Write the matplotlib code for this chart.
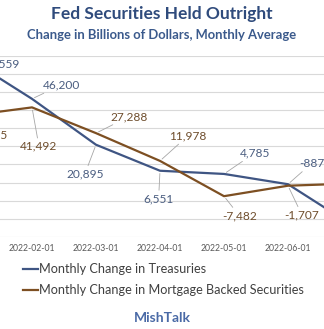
import matplotlib.pyplot as plt

plt.rcParams['font.family'] = ['Lato', 'DejaVu Sans']

# monthly change, billions of dollars (Jan and Jul fall outside the crop)
months = ['2022-01-01', '2022-02-01', '2022-03-01', '2022-04-01',
          '2022-05-01', '2022-06-01', '2022-07-01']
treasuries = [68559, 46200, 20895, 6551, 4785, -887, -23400]
mbs = [36855, 41492, 27288, 11978, -7482, -1707, -500]

# label offsets in points (dx, dy) from each point
treas_off = [(24, -4), (21, 10), (-8, -21), (-1, -20), (22, 15), (17, 15), (0, 0)]
mbs_off = [(15, -14), (5, -28), (24, 12), (20, 18), (11, -14), (10, -21), (0, 0)]

blue = '#3f5583'
brown = '#7d4f22'
blue_txt = '#4a5d80'
brown_txt = '#6e4d2c'

fig = plt.figure(figsize=(3.24, 3.29), dpi=100)
ax = fig.add_axes([0, 0.2796, 1, 0.5511])

x = list(range(len(months)))
ax.plot(x, treasuries, color=blue, lw=1.6, zorder=3)
ax.plot(x, mbs, color=brown, lw=1.6, zorder=3)

ax.set_xticks(x)
ax.set_xticklabels(months, fontsize=6.2, color='#595959')
ax.tick_params(axis='x', length=0, pad=5)

ax.set_yticks(range(-30000, 70001, 10000))
ax.set_yticklabels([])
ax.tick_params(axis='y', length=0)
ax.set_xlim(0.5, 5.5625)
ax.set_ylim(-30000, 70000)
ax.grid(axis='y', color='#d9d9d9', lw=0.8)
ax.set_axisbelow(True)
for s in ax.spines.values():
    s.set_visible(False)

lead = dict(arrowstyle='-', color='#a6a6a6', lw=0.6, shrinkA=0, shrinkB=2)
for i in range(6):
    ax.annotate(f'{treasuries[i]:,}', (x[i], treasuries[i]),
                xytext=treas_off[i], textcoords='offset points',
                ha='center', va='center', fontsize=8.6, color=blue_txt,
                arrowprops=lead, annotation_clip=False)
    ax.annotate(f'{mbs[i]:,}', (x[i], mbs[i]),
                xytext=mbs_off[i], textcoords='offset points',
                ha='center', va='center', fontsize=8.6, color=brown_txt,
                arrowprops=lead, annotation_clip=False)

fig.text(0.5, 0.957, 'Fed Securities Held Outright', ha='center', va='center',
         fontsize=12.5, fontweight='bold', color='#2f4b7c')
fig.text(0.5, 0.895, 'Change in Billions of Dollars, Monthly Average',
         ha='center', va='center', fontsize=9.4, fontweight='bold',
         color='#3b5a8c')

fig.legend(['Monthly Change in Treasuries',
            'Monthly Change in Mortgage Backed Securities'],
           loc='upper left', bbox_to_anchor=(0.055, 0.215), frameon=False,
           fontsize=9.1, handlelength=1.2, handletextpad=0.1,
           labelspacing=0.7, labelcolor='#404040', borderaxespad=0)

fig.text(0.5, 0.033, 'MishTalk', ha='center', va='center', fontsize=10,
         fontweight='bold', color='#4a6aa6')

fig.savefig('out.png', dpi=100)
